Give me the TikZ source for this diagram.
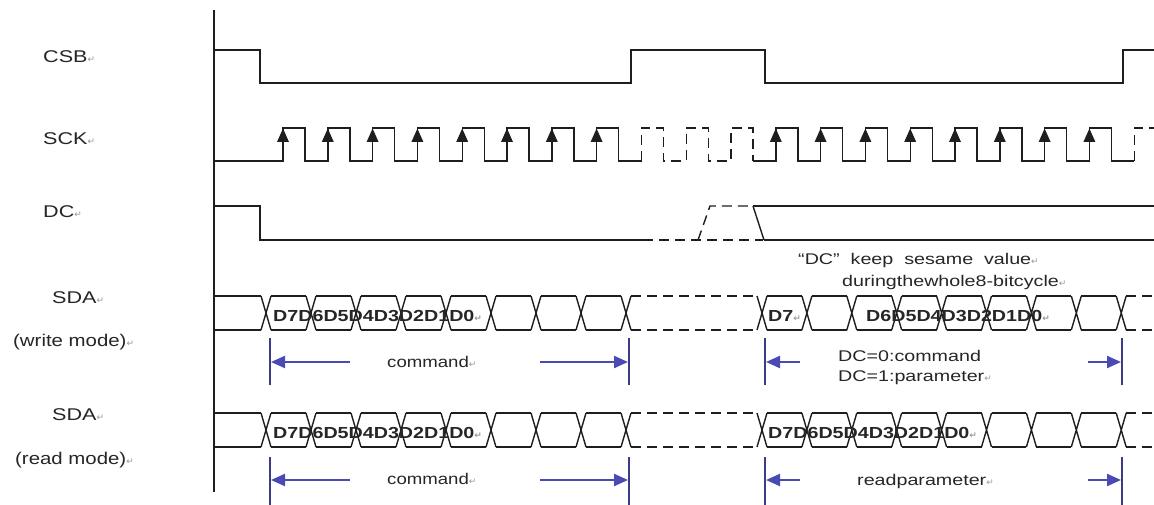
\documentclass[tikz,border=0pt]{standalone}
\usepackage{fontspec}
\usepackage{graphicx}
\setmainfont{Liberation Sans}
\newfontfamily\djv{DejaVu Sans}
\usetikzlibrary{arrows.meta}
\definecolor{sigcol}{HTML}{1E1E1E}
\definecolor{txtcol}{HTML}{262626}
\definecolor{tickcol}{HTML}{3C3C86}
\definecolor{arrcol}{HTML}{4A4AB4}
\newcommand{\pmk}{{\djv\fontsize{9}{9}\selectfont\color{gray!80}↵}}
\newcommand{\sx}[1]{\scalebox{1.27}[1]{#1}}
\newcommand{\sxa}[1]{\scalebox{1.2}[1]{#1}}
\newcommand{\sxb}[1]{\scalebox{1.23}[1]{#1}}
\begin{document}
\begin{tikzpicture}[x=1pt,y=-1pt,
  sigline/.style={line width=1.4pt, draw=sigcol, line join=miter},
  dsig/.style={sigline, dash pattern=on 10pt off 6pt},
  lbl/.style={font=\fontsize{17}{20}\selectfont, text=txtcol, inner sep=0pt, anchor=base west},
  note/.style={font=\fontsize{15.5}{18}\selectfont, text=txtcol, inner sep=0pt, anchor=base west},
  dat/.style={font=\bfseries\fontsize{16}{19}\selectfont, text=txtcol, inner sep=0pt, anchor=base west},
  tickline/.style={line width=1.4pt, draw=tickcol},
  barrow/.style={line width=2.2pt, draw=arrcol, -{Triangle[length=14pt,width=12pt]}},
]
\useasboundingbox (0,0) rectangle (1154,505);
\fill[white] (0,0) rectangle (1154,505);

% axis
\draw[sigline] (214,10) -- (214,492);

% CSB
\draw[sigline] (214,50) -- (260,50) -- (260,83) -- (631,83) -- (631,50) -- (765,50) -- (765,83) -- (1123,83) -- (1123,50) -- (1154,50);

% SCK
\draw[sigline] (214,161) -- (283,161)
  \foreach \k in {0,...,7} { -- ({283+44.8*\k},161) -- ({283+44.8*\k},128) -- ({305+44.8*\k},128) -- ({305+44.8*\k},161) } -- (641.4,161);
\draw[dsig] (641.4,161)
  \foreach \k in {8,9,10} { -- ({283+44.8*\k},161) -- ({283+44.8*\k},128) -- ({305+44.8*\k},128) -- ({305+44.8*\k},161) };
\draw[sigline] (753,161)
  \foreach \k in {11,...,18} { -- ({283+44.8*\k},161) -- ({283+44.8*\k},128) -- ({305+44.8*\k},128) -- ({305+44.8*\k},161) } -- (1134.2,161);
\draw[dsig] (1134.2,161) -- (1134.2,128) -- (1154,128);
\foreach \k in {0,...,7} { \fill[sigcol] ({283+44.8*\k},128.5) -- ({277+44.8*\k},142) -- ({289+44.8*\k},142) -- cycle; }
\foreach \k in {11,...,18} { \fill[sigcol] ({283+44.8*\k},128.5) -- ({277+44.8*\k},142) -- ({289+44.8*\k},142) -- cycle; }

% DC
\draw[sigline] (214,206) -- (260,206) -- (260,240) -- (643,240);
\draw[dsig] (643,240) -- (763,240);
\draw[dsig] (698,240) -- (710,206) -- (753,206);
\draw[sigline] (753,206) -- (1154,206);
\draw[sigline] (753,206) -- (764,240);
\draw[sigline] (764,240) -- (1154,240);

% SDA rows
\foreach \T/\B in {296/330, 413/447} {
  \draw[sigline] (214,\T) -- (261,\T) (214,\B) -- (261,\B);
  \foreach \c in {266,311,...,626} { \draw[sigline] ({\c-5},\T) -- ({\c+5},\B) ({\c-5},\B) -- ({\c+5},\T); }
  \foreach \c in {266,311,...,581} { \draw[sigline] ({\c+5},\T) -- ({\c+40},\T) ({\c+5},\B) -- ({\c+40},\B); }
  \draw[dsig] (631,\T) -- (757,\T) (631,\B) -- (757,\B);
  \foreach \k in {0,...,8} { \draw[sigline] ({757+44.9*\k},\T) -- ({767+44.9*\k},\B) ({757+44.9*\k},\B) -- ({767+44.9*\k},\T); }
  \foreach \k in {0,...,7} { \draw[sigline] ({767+44.9*\k},\T) -- ({801.9+44.9*\k},\T) ({767+44.9*\k},\B) -- ({801.9+44.9*\k},\B); }
  \draw[dsig] (1126.2,\T) -- (1154,\T) (1126.2,\B) -- (1154,\B);
}

% signal labels
\node[lbl] (lcsb) at (43,63) {\sx{CSB}\pmk};
\node[lbl] (lsck) at (43,145) {\sx{SCK}\pmk};
\node[lbl] (ldc)  at (43,218) {\sx{DC}\pmk};
\node[lbl] (lsdaw) at (52,303) {\sx{SDA}\pmk};
\node[lbl] (lwm)  at (13,346) {\sxa{(write mode)}\pmk};
\node[lbl] (lsdar) at (52,420) {\sx{SDA}\pmk};
\node[lbl] (lrm)  at (15,464) {\sxa{(read mode)}\pmk};

% data labels
\node[dat] (dw1) at (273,321) {\sxb{D7D6D5D4D3D2D1D0}\pmk};
\node[dat] (dr1) at (273,438) {\sxb{D7D6D5D4D3D2D1D0}\pmk};
\node[dat] (dw2a) at (768,321) {\sxb{D7}\pmk};
\node[dat] (dw2b) at (866,321) {\sxb{D6D5D4D3D2D1D0}\pmk};
\node[dat] (dr2) at (768,438) {\sxb{D7D6D5D4D3D2D1D0}\pmk};

% annotation
\node[note] (n1) at (798,265) {\sx{“DC”~ keep~ sesame~ value}\pmk};
\node[note] (n2) at (842,286) {\sx{duringthewhole8-bitcycle}\pmk};

% arrow rows
\foreach \Y/\Ya/\Yb/\nm in {362/338/385/w, 480/457/505/r} {
  \coordinate (t1\nm) at (270,\Ya); \coordinate (b1\nm) at (270,\Yb);
  \coordinate (t2\nm) at (629,\Ya); \coordinate (b2\nm) at (629,\Yb);
  \coordinate (t3\nm) at (765,\Ya); \coordinate (b3\nm) at (765,\Yb);
  \coordinate (t4\nm) at (1122,\Ya); \coordinate (b4\nm) at (1122,\Yb);
  \draw[tickline] (t1\nm) -- (b1\nm);
  \draw[tickline] (t2\nm) -- (b2\nm);
  \draw[tickline] (t3\nm) -- (b3\nm);
  \draw[tickline] (t4\nm) -- (b4\nm);
  \coordinate (s1\nm) at (350,\Y); \coordinate (e1\nm) at (271,\Y);
  \coordinate (s2\nm) at (540,\Y); \coordinate (e2\nm) at (628,\Y);
  \coordinate (s3\nm) at (800,\Y); \coordinate (e3\nm) at (766,\Y);
  \coordinate (s4\nm) at (1088,\Y); \coordinate (e4\nm) at (1121,\Y);
  \draw[barrow] (s1\nm) -- (e1\nm);
  \draw[barrow] (s2\nm) -- (e2\nm);
  \draw[barrow] (s3\nm) -- (e3\nm);
  \draw[barrow] (s4\nm) -- (e4\nm);
}
\node[note] (cw) at (387,367) {\sxa{command}\pmk};
\node[note] (p0) at (838,361) {\sx{DC=0:command}};
\node[note] (p1) at (838,381) {\sx{DC=1:parameter}\pmk};
\node[note] (cr) at (387,484) {\sxa{command}\pmk};
\node[note] (rp) at (857,485) {\sx{readparameter}\pmk};
\end{tikzpicture}
\end{document}
